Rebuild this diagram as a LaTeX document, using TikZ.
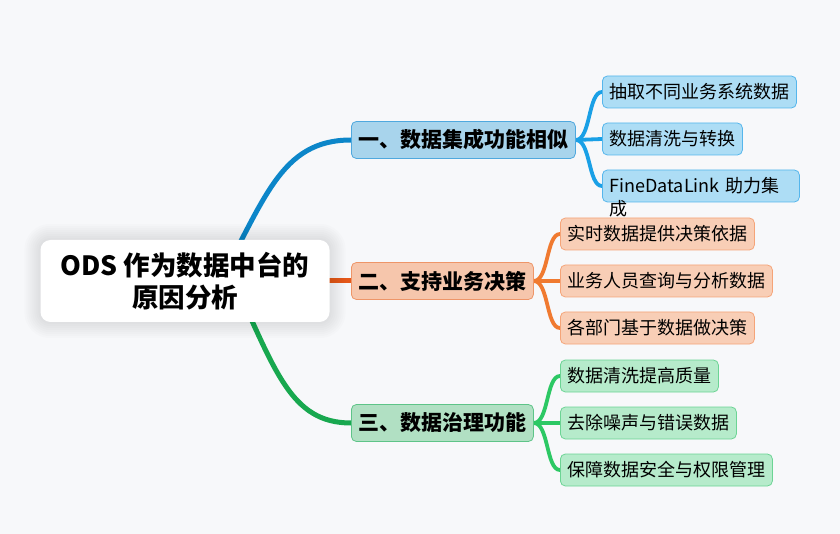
\documentclass[tikz,border=0pt]{standalone}
\usepackage{fontspec}
\setmainfont{Noto Sans CJK SC}
\usetikzlibrary{calc}
\pgfdeclarelayer{back}
\pgfdeclarelayer{bg}
\pgfsetlayers{back,bg,main}
\definecolor{bgc}{HTML}{F7F8FA}
\definecolor{bluemain}{HTML}{0C86C9}
\definecolor{blueleaf}{HTML}{1AA0E6}
\definecolor{bluebf}{HTML}{A8D4EC}
\definecolor{bluebd}{HTML}{4FA8DE}
\definecolor{bluelf}{HTML}{ADDDF5}
\definecolor{blueld}{HTML}{55B6EC}
\definecolor{orgmain}{HTML}{E5581A}
\definecolor{orgleaf}{HTML}{F07A30}
\definecolor{orgbf}{HTML}{F6C6AC}
\definecolor{orgbd}{HTML}{EE9568}
\definecolor{orglf}{HTML}{F8CEB6}
\definecolor{orgld}{HTML}{F5A478}
\definecolor{grnmain}{HTML}{18A84F}
\definecolor{grnleaf}{HTML}{2CC864}
\definecolor{grnbf}{HTML}{B1E0C3}
\definecolor{grnbd}{HTML}{5EC488}
\definecolor{grnlf}{HTML}{B6EBCB}
\definecolor{grnld}{HTML}{6CD494}
\tikzset{
  rootbox/.style={draw=none, fill=white, rounded corners=10pt, minimum width=289pt, minimum height=82pt,
    align=center, font=\fontsize{26.5}{32}\selectfont\bfseries},
  branchbox/.style={anchor=west, rounded corners=5pt, line width=0.8pt, minimum height=37pt, inner xsep=7pt,
    font=\fontsize{21}{25}\selectfont\bfseries},
  leafbox/.style={anchor=west, rounded corners=5pt, line width=0.8pt, minimum height=32pt, inner xsep=7pt,
    font=\fontsize{18}{22}\selectfont},
  mainline/.style={line width=5pt, line cap=round},
  leafline/.style={line width=3.8pt, line cap=round},
}
\begin{document}
\begin{tikzpicture}[x=1pt,y=-1pt]
\begin{pgfonlayer}{back}
\fill[bgc] (0,0) rectangle (840,534);
\end{pgfonlayer}
\useasboundingbox (0,0) rectangle (840,534);

\node[rootbox] (root) at (185,281) {ODS 作为数据中台的\\原因分析};

\node[branchbox, fill=bluebf, draw=bluebd] (b1) at (351,140) {一、数据集成功能相似};
\node[branchbox, fill=orgbf, draw=orgbd] (b2) at (351,281) {二、支持业务决策};
\node[branchbox, fill=grnbf, draw=grnbd] (b3) at (351,423) {三、数据治理功能};

\node[leafbox, fill=bluelf, draw=blueld] (l1a) at (602,92) {抽取不同业务系统数据};
\node[leafbox, fill=bluelf, draw=blueld] (l1b) at (602,139) {数据清洗与转换};
\node[leafbox, fill=bluelf, draw=blueld, text width=183pt, align=left] (l1c) at (602,186) {\makebox[0pt][l]{\raisebox{-23pt}[0pt][0pt]{成}}FineDataLink 助力集};

\node[leafbox, fill=orglf, draw=orgld] (l2a) at (560,234) {实时数据提供决策依据};
\node[leafbox, fill=orglf, draw=orgld] (l2b) at (560,281) {业务人员查询与分析数据};
\node[leafbox, fill=orglf, draw=orgld] (l2c) at (560,328) {各部门基于数据做决策};

\node[leafbox, fill=grnlf, draw=grnld] (l3a) at (560,376) {数据清洗提高质量};
\node[leafbox, fill=grnlf, draw=grnld] (l3b) at (560,423) {去除噪声与错误数据};
\node[leafbox, fill=grnlf, draw=grnld] (l3c) at (560,470) {保障数据安全与权限管理};

\coordinate (s1) at ($(root.center)+(30,9)$);
\coordinate (s3) at ($(root.center)+(45,-9)$);

\begin{pgfonlayer}{bg}
\draw[mainline, bluemain] (s1) .. controls +(50,-90) and +(-71,0) .. (b1.west);
\draw[mainline, orgmain] (root.center) -- (b2.west);
\draw[mainline, grnmain] (s3) .. controls +(45,98) and +(-61,0) .. (b3.west);

\foreach \b/\l/\c in {b1/l1a/blueleaf, b1/l1c/blueleaf, b2/l2a/orgleaf, b2/l2c/orgleaf, b3/l3a/grnleaf, b3/l3c/grnleaf}{
  \draw[leafline, \c] (\b.east) .. controls +(15,0) and +(-14,0) .. (\l.west);
}
\draw[leafline, blueleaf] (b1.east) -- (l1b.west);
\draw[leafline, orgleaf] (b2.east) -- (l2b.west);
\draw[leafline, grnleaf] (b3.east) -- (l3b.west);

\foreach \r in {2,4,...,16}{
  \fill[black, opacity=0.012, rounded corners=10pt+\r pt]
    ($(root.south west)+(-\r,\r)$) rectangle ($(root.north east)+(\r,-\r)$);
}
\end{pgfonlayer}
\end{tikzpicture}
\end{document}
